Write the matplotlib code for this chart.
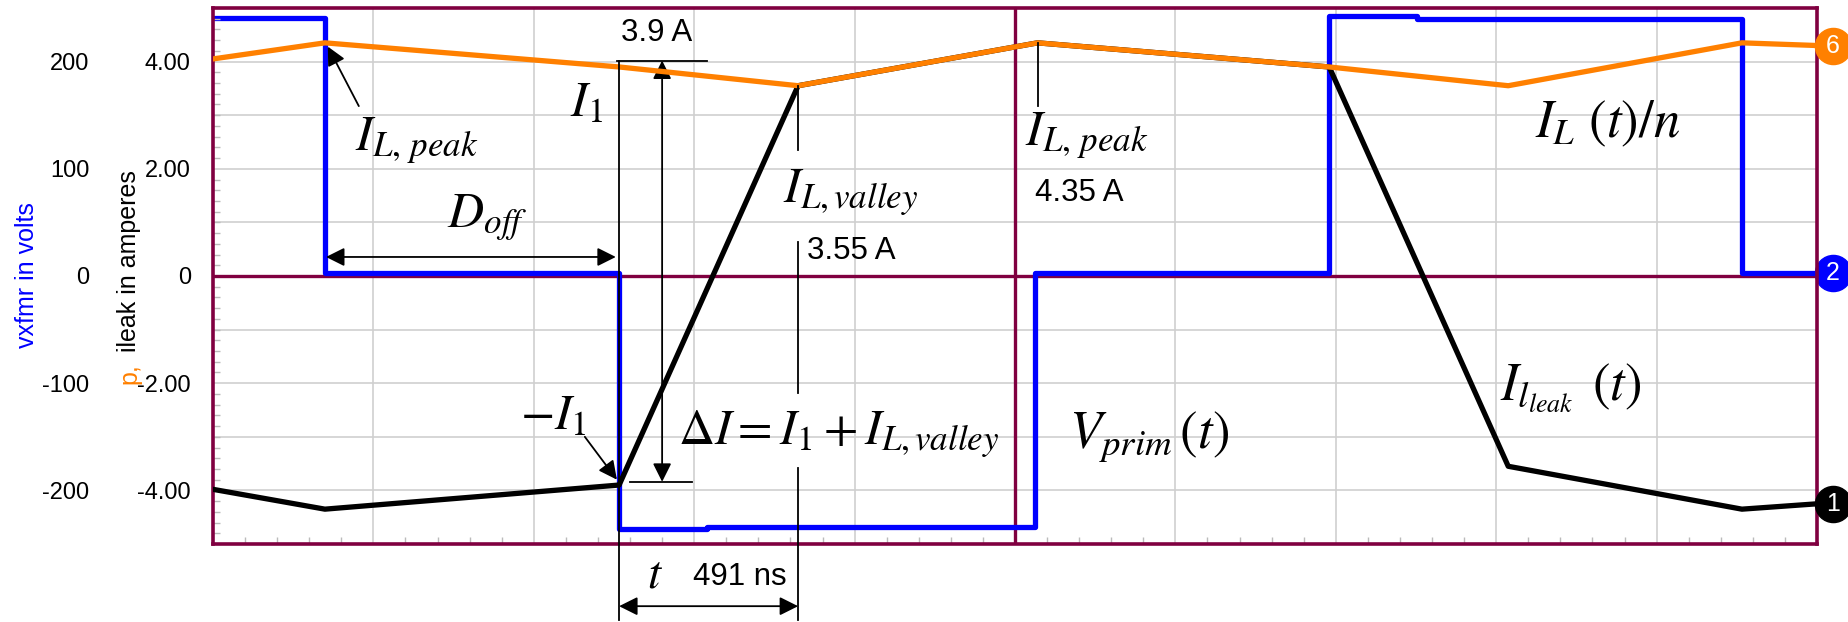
import numpy as np
import matplotlib.pyplot as plt
from matplotlib.ticker import MultipleLocator

plt.rcParams['font.family'] = 'Liberation Sans'
plt.rcParams['mathtext.fontset'] = 'stix'

# time in microseconds, 10 divisions of 0.44 us
t_vxfmr = [0.0, 0.307, 1.114, 1.355, 2.255, 3.062, 3.303, 4.194, 4.4]
v_vxfmr = [241, 3, -236, -234, 3, 243, 240, 3, 3]          # volts (step levels)

t_ileak = [0.0, 0.307, 1.114, 1.605, 2.262, 3.062, 3.553, 4.194, 4.4]
i_ileak = [-3.98, -4.35, -3.9, 3.55, 4.35, 3.9, -3.55, -4.35, -4.25]   # amperes

t_ip = [0.0, 0.307, 1.114, 1.605, 2.262, 3.062, 3.553, 4.194, 4.4]
i_ip = [4.05, 4.35, 3.9, 3.55, 4.35, 3.9, 3.55, 4.35, 4.3]            # amperes

i_1 = 3.9
i_peak = 4.35
i_valley = 3.55
t_off = 1.114
t_rise = 0.491

volt_ticks = [-200, -100, 0, 100, 200]
volt_labels = ['-200', '-100', '0', '100', '200']
amp_ticks = [-4, -2, 0, 2, 4]
amp_labels = ['-4.00', '-2.00', '0', '2.00', '4.00']

MAROON = '#800040'
GRID = '#cfcfcf'
ORANGE = '#ff8000'
BLUE = '#0000ff'

fig = plt.figure(figsize=(18.48, 6.22), dpi=100)
pos = [213 / 1848, 1 - 544 / 622, 1604 / 1848, 536 / 622]

# volts axes underneath: grid, centre lines and the transformer voltage
ax2 = fig.add_axes(pos)
ax2.set_xlim(0, 4.4)
ax2.set_ylim(-250, 250)
ax2.set_xticks(np.linspace(0, 4.4, 11))
ax2.set_yticks(volt_ticks)
ax2.set_yticklabels(volt_labels)
ax2.set_yticks(np.arange(-250, 251, 50), minor=True)
ax2.grid(axis='x', which='major', color=GRID, lw=1.2)
ax2.grid(axis='y', which='both', color=GRID, lw=1.2)
ax2.tick_params(which='both', length=0)
ax2.tick_params(axis='x', labelbottom=False)
ax2.tick_params(axis='y', labelsize=17, pad=89)
for s in ax2.spines.values():
    s.set_visible(False)
ax2.axhline(0, color=MAROON, lw=2.4, zorder=2)
ax2.axvline(2.2, color=MAROON, lw=2.4, zorder=2)
ax2.step(t_vxfmr, v_vxfmr, where='post', color=BLUE, lw=3.8, zorder=3)

# amperes axes on top
ax = fig.add_axes(pos)
ax.patch.set_visible(False)
ax.set_xlim(0, 4.4)
ax.set_ylim(-5, 5)
ax.set_xticks(np.linspace(0, 4.4, 11))
ax.xaxis.set_minor_locator(MultipleLocator(0.088))
ax.yaxis.set_minor_locator(MultipleLocator(0.2))
ax.set_yticks(amp_ticks)
ax.set_yticklabels(amp_labels)
ax.tick_params(which='major', length=0)
ax.tick_params(axis='x', labelbottom=False)
ax.tick_params(axis='y', labelsize=17, pad=16)
ax.tick_params(which='minor', direction='in', length=5, width=1, color='#bbbbbb')
for s in ax.spines.values():
    s.set_color(MAROON)
    s.set_linewidth(2.6)

ax.plot(t_ileak, i_ileak, color='k', lw=3.8, zorder=3)
ax.plot(t_ip, i_ip, color=ORANGE, lw=3.8, zorder=4)

# numbered trace markers beyond the right edge
mx = 4.444
for axis, y, c, n in [(ax, i_ip[-1], ORANGE, '6'), (ax2, v_vxfmr[-1], BLUE, '2'),
                      (ax, i_ileak[-1], 'k', '1')]:
    axis.plot(mx, y, 'o', ms=26, color=c, clip_on=False, zorder=6)
    axis.text(mx, y, n, color='white', fontsize=18, ha='center', va='center', zorder=7)


def line(xs, ys):
    ax.plot(xs, ys, color='k', lw=1.3, clip_on=False, zorder=5)


def arrow(p0, p1, style):
    ax.annotate('', xy=p1, xytext=p0, annotation_clip=False,
                arrowprops=dict(arrowstyle=style, color='k', lw=1.3,
                                shrinkA=0, shrinkB=0, mutation_scale=28))


# delta I dimension
line([t_off - 0.006, 1.355], [4.02, 4.02])
line([t_off, t_off], [4.02, -6.42])
line([1.144, 1.314], [-3.84, -3.84])
arrow((1.232, 4.02), (1.232, -3.84), '<|-|>')

# valley marker line, broken around the labels
tv = t_off + t_rise
line([tv, tv], [i_valley, 2.35])
line([tv, tv], [0.63, -2.18])
line([tv, tv], [-3.58, -6.42])
arrow((t_off, -6.16), (tv, -6.16), '<|-|>')

arrow((0.31, 0.355), (1.105, 0.355), '<|-|>')
arrow((0.40, 3.17), (0.315, 4.28), '-|>')
arrow((1.02, -3.0), (1.108, -3.8), '-|>')
line([2.262, 2.262], [i_peak, 3.17])

math = dict(fontsize=36, ha='left', va='baseline', zorder=6)
ax.text(0.39, 2.35, r'$I_{L,\,peak}$', **math)
ax.text(0.979, 2.97, r'$I_1$', **math)
ax.text(0.642, 0.91, r'$D_{off}$', **math)
ax.text(1.564, 1.38, r'$I_{L,valley}$', **math)
ax.text(0.842, -2.87, r'$-I_1$', **math)
ax.text(1.276, -3.15, r'$\Delta I = I_1 + I_{L,valley}$', **math)
ax.text(2.228, 2.44, r'$I_{L,\,peak}$', **math)
ax.text(3.627, 2.59, r'$I_L\,\,(t)/n$', fontsize=38, ha='left', va='baseline')
ax.text(3.531, -2.31, r'$I_{l_{leak}}\;\,(t)$', fontsize=38, ha='left', va='baseline')
ax.text(2.349, -3.21, r'$V_{prim}\,(t)$', fontsize=38, ha='left', va='baseline')
ax.text(1.213, -5.58, r'$t$', fontsize=34, ha='center', va='center')

plain = dict(fontsize=22.5, ha='left', va='center')
ax.text(1.119, 4.53, f'{i_1} A', **plain)
ax.text(1.630, 0.47, f'{i_valley} A', **plain)
ax.text(2.255, 1.55, f'{i_peak} A', **plain)
ax.text(1.317, -5.62, f'{t_rise * 1000:.0f} ns', **plain)

# axis titles
fig.text(27 / 1848, 1 - 275 / 622, 'vxfmr in volts', rotation=90, color=BLUE,
         fontsize=18, ha='center', va='center')
fig.text(136 / 1848, 1 - 352 / 622, 'ileak in amperes', rotation=90,
         rotation_mode='anchor', fontsize=18, ha='left', va='baseline')
fig.text(136 / 1848, 1 - 384 / 622, 'p,', rotation=90, color=ORANGE,
         rotation_mode='anchor', fontsize=18, ha='left', va='baseline')

fig.savefig('out.png', dpi=100)
